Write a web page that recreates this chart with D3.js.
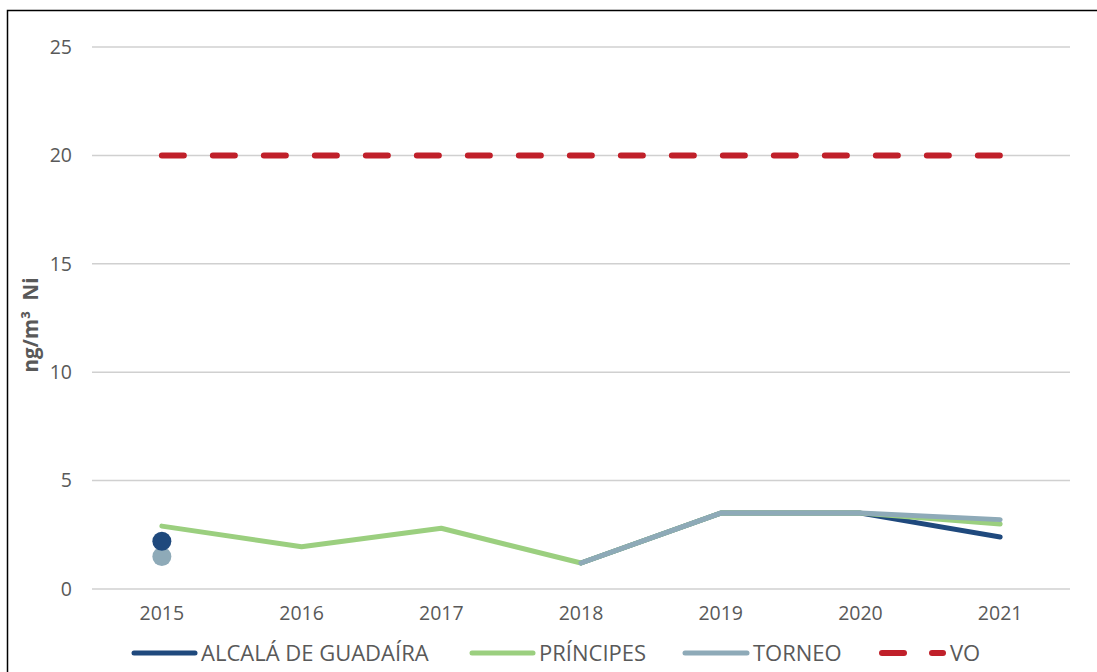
<!DOCTYPE html>
<html><head><meta charset="utf-8">
<script src="https://cdn.jsdelivr.net/npm/d3@7"></script>
<style>html,body{margin:0;padding:0;background:#fff;}svg{display:block;}</style>
</head><body>
<svg id="c" width="1097" height="672"></svg>
<script>
const years = ["2015","2016","2017","2018","2019","2020","2021"];
const alcala   = [2.2, null, null, 1.2, 3.5, 3.5, 2.4];
const principes= [2.9, 1.95, 2.8, 1.2, 3.5, 3.5, 3.0];
const torneo   = [1.5, null, null, 1.2, 3.5, 3.5, 3.2];
const vo       = [20, 20, 20, 20, 20, 20, 20];
const yTicks = [0, 5, 10, 15, 20, 25];
const seriesNames = ["ALCALÁ DE GUADAÍRA", "PRÍNCIPES", "TORNEO", "VO"];
const yTitle = "ng/m³  Ni";

const colors = {alcala:"#1f497d", principes:"#9bcf7f", torneo:"#8eaab8", vo:"#c0202a"};
const font = "'Open Sans', 'Liberation Sans', sans-serif";
const txt = "#595959";

const svg = d3.select("#c");
svg.append("rect").attr("x",7.5).attr("y",10.5).attr("width",1200).attr("height",800)
  .attr("fill","none").attr("stroke","#000").attr("stroke-width",1.5);

const x = d3.scaleBand().domain(years).range([92,1070]).padding(0);
const y = d3.scaleLinear().domain([0,25]).range([589,47]);
const cx = d => x(d) + x.bandwidth()/2;

svg.append("g").selectAll("line").data(yTicks).join("line")
  .attr("x1",92).attr("x2",1070).attr("y1",d=>y(d)).attr("y2",d=>y(d))
  .attr("stroke","#d0d0d0").attr("stroke-width",1.5);

const ya = svg.append("g").attr("transform","translate(92,0)")
  .call(d3.axisLeft(y).tickValues(yTicks).tickSize(0).tickPadding(20));
ya.select(".domain").remove();
ya.selectAll("text").attr("font-family",font).attr("font-size",19.5).attr("fill",txt);

const xa = svg.append("g").attr("transform","translate(0,589)")
  .call(d3.axisBottom(x).tickSize(0).tickPadding(17));
xa.select(".domain").remove();
xa.selectAll("text").attr("font-family",font).attr("font-size",19.5).attr("fill",txt);

svg.append("text").attr("transform","translate(38,325) rotate(-90)")
  .attr("text-anchor","middle").attr("font-family",font).attr("font-weight","bold")
  .attr("font-size",20.5).attr("fill",txt).attr("xml:space","preserve").text(yTitle);

const line = d3.line().defined(d=>d[1]!=null).x(d=>cx(d[0])).y(d=>y(d[1]));
const isolated = [];
function drawSeries(vals, color, width, dash){
  const pts = years.map((yr,i)=>[yr, vals[i]]);
  const p = svg.append("path").datum(pts).attr("d",line).attr("fill","none")
    .attr("stroke",color).attr("stroke-width",width)
    .attr("stroke-linejoin","round").attr("stroke-linecap","round");
  if(dash) p.attr("stroke-dasharray",dash);
  pts.forEach((d,i)=>{
    if(d[1]==null) return;
    const prev = i>0 ? pts[i-1][1] : null, next = i<pts.length-1 ? pts[i+1][1] : null;
    if(prev==null && next==null) isolated.push({yr:d[0], v:d[1], color});
  });
}
drawSeries(vo, colors.vo, 6, "22 29");
drawSeries(alcala, colors.alcala, 5);
drawSeries(principes, colors.principes, 5);
drawSeries(torneo, colors.torneo, 5);
isolated.sort((a,b)=>a.v-b.v).forEach(p=>{
  svg.append("circle").attr("cx",cx(p.yr)).attr("cy",y(p.v)).attr("r",9.5).attr("fill",p.color);
});

const leg = [
  {name:seriesNames[0], c:colors.alcala, x1:134, x2:195, tx:201},
  {name:seriesNames[1], c:colors.principes, x1:472, x2:533, tx:539},
  {name:seriesNames[2], c:colors.torneo, x1:685, x2:747, tx:753},
  {name:seriesNames[3], c:colors.vo, tx:950, dash:true}
];
const ly = 653;
leg.forEach(l=>{
  if(l.dash){
    svg.append("line").attr("x1",882).attr("x2",904).attr("y1",ly).attr("y2",ly)
      .attr("stroke",l.c).attr("stroke-width",6).attr("stroke-linecap","round");
    svg.append("line").attr("x1",932).attr("x2",943).attr("y1",ly).attr("y2",ly)
      .attr("stroke",l.c).attr("stroke-width",6).attr("stroke-linecap","round");
  } else {
    svg.append("line").attr("x1",l.x1).attr("x2",l.x2).attr("y1",ly).attr("y2",ly)
      .attr("stroke",l.c).attr("stroke-width",5).attr("stroke-linecap","round");
  }
  svg.append("text").attr("x",l.tx).attr("y",ly).attr("dy","0.36em")
    .attr("font-family",font).attr("font-size",22).attr("fill",txt).text(l.name);
});
</script>
</body></html>
